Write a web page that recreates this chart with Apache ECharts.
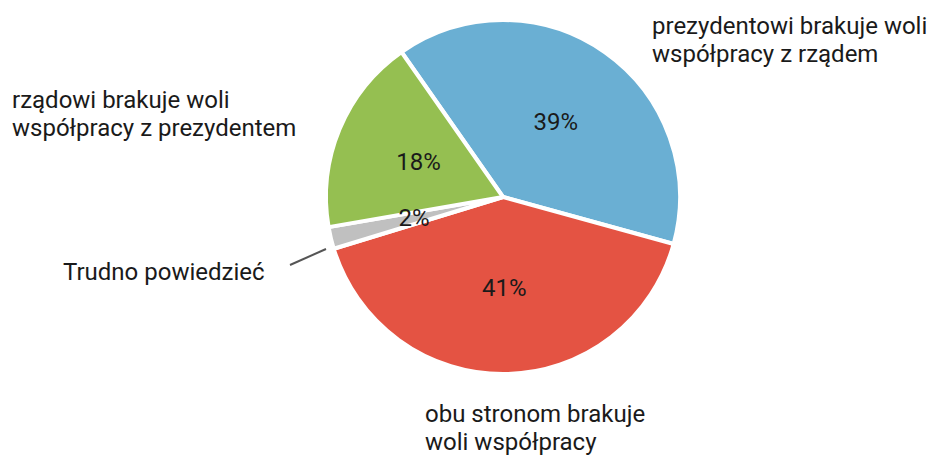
<!DOCTYPE html>
<html><head><meta charset="utf-8">
<script src="https://cdn.jsdelivr.net/npm/echarts@6/dist/echarts.min.js"></script>
<style>html,body{margin:0;padding:0;background:#fff}#c{width:932px;height:457px}</style>
</head><body><div id="c"></div>
<script>
var categories = ['prezydentowi brakuje woli\nwspółpracy z rządem', 'obu stronom brakuje\nwoli współpracy', 'Trudno powiedzieć', 'rządowi brakuje woli\nwspółpracy z prezydentem'];
var values = [39, 41, 2, 18];
var colors = ['#6aafd3', '#e45343', '#c0c0c0', '#95bf51'];
var labelPos = [
  {x: 652, y: 12},
  {x: 425, y: 400},
  {x: 63, y: 258},
  {x: 12, y: 86}
];
var data = categories.map(function (c, i) {
  return {name: c, value: values[i], itemStyle: {color: colors[i]}};
});
var chart = echarts.init(document.getElementById('c'), null, {renderer: 'svg'});
var font = 'Roboto, "Noto Sans", sans-serif';
chart.setOption({
  animation: false,
  series: [{
    type: 'pie',
    center: [503, 197],
    radius: [0, 177],
    startAngle: 125,
    clockwise: true,
    itemStyle: {borderColor: '#fff', borderWidth: 4},
    label: {show: true, position: 'inside', formatter: '{d}%', fontSize: 24, fontFamily: font, color: '#1a1a1a'},
    data: data
  }, {
    type: 'pie',
    center: [503, 197],
    radius: [0, 177],
    startAngle: 125,
    clockwise: true,
    silent: true,
    z: 1,
    itemStyle: {color: 'rgba(0,0,0,0)', borderWidth: 0},
    label: {show: true, position: 'outside', formatter: '{b}', fontSize: 24, lineHeight: 28, fontFamily: font, color: '#1a1a1a', overflow: 'none', width: 600},
    labelLine: {show: true, lineStyle: {color: '#555', width: 2}},
    labelLayout: function (p) {
      var lp = labelPos[p.dataIndex];
      var o = {x: lp.x, y: lp.y, align: 'left', verticalAlign: 'top'};
      if (p.dataIndex === 2) {
        o.labelLinePoints = [[326, 249], [290, 265], [290, 265]];
      }
      return o;
    },
    data: data.map(function (d, i) {
      return {name: d.name, value: d.value, labelLine: {show: i === 2}};
    })
  }]
});
</script></body></html>
